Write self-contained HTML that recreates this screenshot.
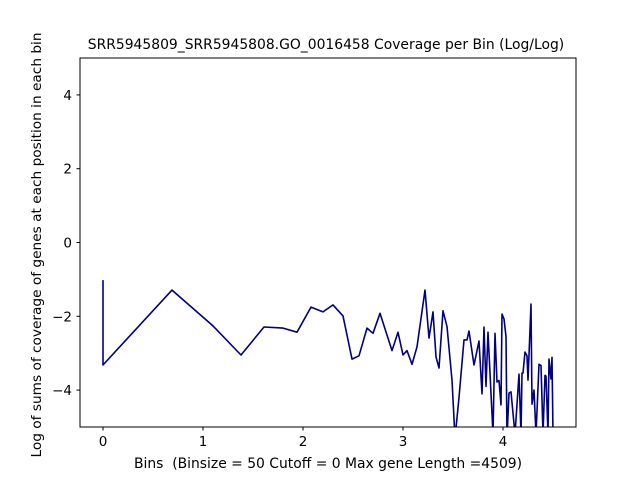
<!DOCTYPE html>
<html><head><meta charset="utf-8"><style>
body{margin:0;background:#fff}
svg{display:block;font-family:"DejaVu Sans","Liberation Sans",sans-serif}
</style></head><body>
<svg id="chart" width="640" height="480">
<defs><clipPath id="pc"><rect x="80" y="58" width="496" height="369"/></clipPath></defs>
<rect x="0" y="0" width="640" height="480" fill="#fff"/>
<text x="326" y="49" font-size="13.9" text-anchor="middle">SRR5945809_SRR5945808.GO_0016458 Coverage per Bin (Log/Log)</text>
<g id="ticks"></g>
<polyline id="line" clip-path="url(#pc)" fill="none" stroke="#000080" stroke-width="1.6" stroke-linejoin="round"/>
<rect x="80" y="58" width="496" height="369" fill="none" stroke="#000" stroke-width="1"/>
<text x="328" y="468" font-size="13.9" text-anchor="middle">Bins &#160;(Binsize = 50 Cutoff = 0 Max gene Length =4509)</text>
<text transform="translate(41,245) rotate(-90)" font-size="13.7" text-anchor="middle">Log of sums of coverage of genes at each position in each bin</text>
</svg>
<script>
const xVals=[0,0,0.69,1.1,1.38,1.61,1.8,1.94,2.08,2.2,2.3,2.4,2.49,2.56,2.64,2.7,2.77,2.89,2.95,3.0,3.04,3.09,3.14,3.22,3.26,3.3,3.33,3.36,3.4,3.44,3.49,3.52,3.56,3.61,3.64,3.66,3.71,3.76,3.79,3.81,3.83,3.85,3.9,3.92,3.94,3.96,3.98,3.99,4.01,4.03,4.04,4.06,4.08,4.12,4.16,4.18,4.19,4.2,4.22,4.24,4.25,4.28,4.29,4.31,4.33,4.36,4.38,4.4,4.42,4.43,4.45,4.46,4.48,4.49,4.5];
const yVals=[-1.02,-3.32,-1.29,-2.26,-3.05,-2.29,-2.32,-2.43,-1.75,-1.88,-1.69,-1.99,-3.16,-3.07,-2.32,-2.46,-1.92,-2.93,-2.43,-3.05,-2.93,-3.3,-2.83,-1.29,-2.59,-1.88,-3.1,-3.4,-1.85,-2.28,-3.73,-5.3,-4.2,-2.64,-2.64,-2.4,-3.32,-2.67,-4.1,-2.29,-3.9,-2.43,-5.2,-2.46,-3.78,-3.74,-4.4,-1.94,-2.07,-2.55,-5.3,-4.08,-4.05,-5.2,-3.57,-5.2,-3.54,-3.54,-2.97,-3.07,-3.73,-1.67,-4.38,-4.0,-5.2,-3.3,-3.33,-5.2,-3.6,-3.62,-5.2,-3.16,-3.7,-3.11,-5.2];
const xTicks=[0,1,2,3,4];
const yTicks=[-4,-2,0,2,4];
const sx=v=>103+v*100;
const sy=v=>242.5-v*36.9;
const NS="http://www.w3.org/2000/svg";
const line=document.getElementById('line');
line.setAttribute('points',xVals.map((x,i)=>sx(x).toFixed(1)+','+sy(yVals[i]).toFixed(1)).join(' '));
const g=document.getElementById('ticks');
xTicks.forEach(t=>{
 const l=document.createElementNS(NS,'line');
 
 
 l.setAttribute('x1',sx(t));l.setAttribute('x2',sx(t));l.setAttribute('y1',427);l.setAttribute('y2',430.5);l.setAttribute('stroke','#000');
 g.appendChild(l);
 const tx=document.createElementNS(NS,'text');
 
 
 tx.setAttribute('x',sx(t));tx.setAttribute('y',446);tx.setAttribute('font-size','13.5');tx.setAttribute('text-anchor','middle');
 tx.textContent=t;g.appendChild(tx);
});
yTicks.forEach(t=>{
 const l=document.createElementNS(NS,'line');
 
 
 l.setAttribute('x1',76.5);l.setAttribute('x2',80);l.setAttribute('y1',sy(t));l.setAttribute('y2',sy(t));l.setAttribute('stroke','#000');
 g.appendChild(l);
 const tx=document.createElementNS(NS,'text');
 
 
 tx.setAttribute('x',72);tx.setAttribute('y',sy(t)+5);tx.setAttribute('font-size','13.5');tx.setAttribute('text-anchor','end');
 tx.textContent=t<0?'\u2212'+Math.abs(t):t;g.appendChild(tx);
});
</script>
</body></html>
